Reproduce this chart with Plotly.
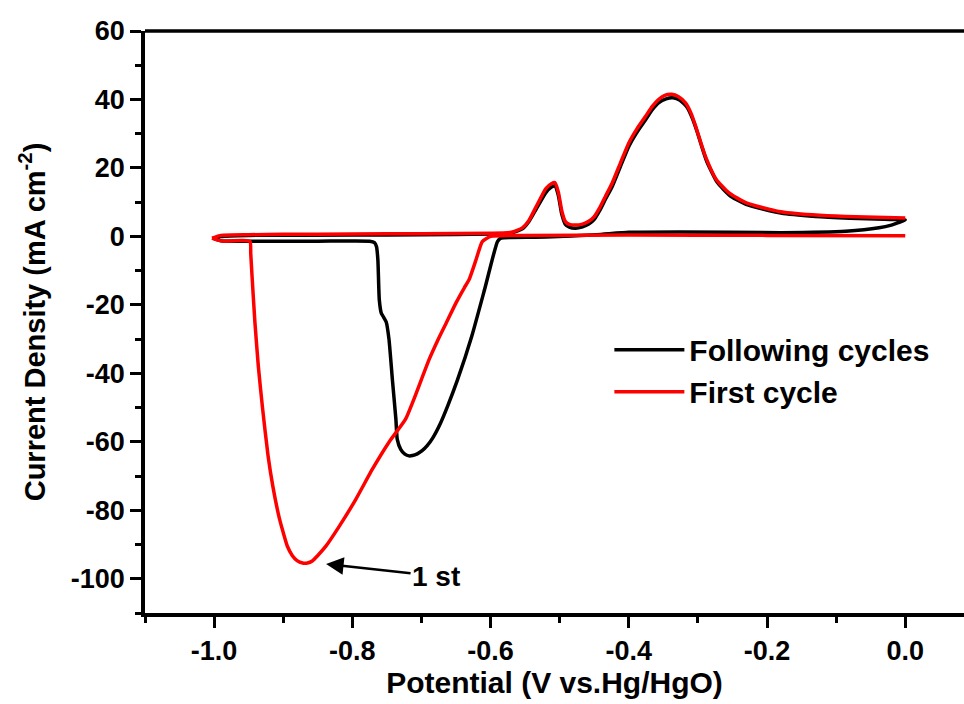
import plotly.graph_objects as go

# Following cycles (black) - closed CV loop
follow_x = [-1.0, -0.99, -0.95, -0.8, -0.7, -0.6, -0.57, -0.554, -0.545, -0.534, -0.52, -0.512, -0.507, -0.502,
            -0.497, -0.492, -0.486, -0.477, -0.467, -0.458, -0.450, -0.442, -0.434, -0.424, -0.412, -0.4, -0.388,
            -0.376, -0.366, -0.357, -0.346, -0.336, -0.326, -0.316, -0.308,
            -0.301, -0.294, -0.287, -0.272, -0.253, -0.228, -0.18, -0.13, -0.08, -0.03, 0.0,
            -0.01, -0.02, -0.038, -0.086, -0.18, -0.327, -0.4, -0.447, -0.52, -0.57, -0.585,
            -0.590, -0.608, -0.627, -0.648, -0.662, -0.673, -0.684, -0.692, -0.699, -0.706, -0.713, -0.718,
            -0.724, -0.730, -0.735, -0.737, -0.742, -0.747, -0.751, -0.755, -0.758, -0.761, -0.763, -0.765,
            -0.768, -0.775, -0.85, -0.95, -0.99, -1.0]
follow_y = [-0.6, 0.0, 0.3, 0.4, 0.5, 0.7, 1.0, 2.2, 4.2, 8.0, 12.8, 14.4, 14.8, 12.0,
            6.5, 3.6, 2.7, 2.4, 2.8, 3.6, 5.0, 7.6, 10.8, 14.6, 20.5, 26.3, 30.5,
            34.0, 37.0, 39.0, 40.2, 40.5, 39.8, 37.8, 34.5,
            30.5, 26.0, 21.8, 15.8, 11.8, 9.2, 6.8, 5.8, 5.3, 5.0, 4.8,
            4.0, 3.3, 2.5, 1.5, 1.1, 1.3, 1.2, 0.5, -0.2, -0.3, -0.5,
            -1.5, -15.0, -29.0, -42.0, -49.5, -54.8, -59.0, -61.2, -62.6, -63.5, -64.0, -64.1,
            -63.6, -62.2, -59.3, -53.4, -42.0, -30.0, -25.0, -23.5, -22.5, -18.5, -7.0, -3.0,
            -1.8, -1.4, -1.4, -1.4, -1.3, -0.6]

# First cycle (red)
first_x = [-1.003, -0.99, -0.95, -0.9, -0.8, -0.7, -0.6, -0.57, -0.554, -0.545, -0.534, -0.52, -0.512, -0.507,
           -0.502, -0.497, -0.492, -0.486, -0.477, -0.467, -0.458, -0.450, -0.442, -0.434, -0.424, -0.412, -0.4, -0.388,
           -0.376, -0.366, -0.357, -0.348, -0.338, -0.328,
           -0.318, -0.310, -0.303, -0.296, -0.289, -0.274, -0.255, -0.23, -0.183, -0.134, -0.086, 0.0,
           None,
           0.0, -0.2, -0.4, -0.55, -0.6, -0.612, -0.621, -0.631, -0.638, -0.650, -0.664, -0.674,
           -0.689, -0.711, -0.723, -0.747, -0.771, -0.795, -0.819, -0.838, -0.850, -0.858, -0.865,
           -0.872, -0.880, -0.887, -0.894, -0.900, -0.906, -0.915, -0.922, -0.930, -0.936, -0.941, -0.945,
           -0.947, -0.948, -0.96, -0.99, -1.003]
first_y = [-0.5, 0.3, 0.5, 0.6, 0.7, 0.8, 0.9, 1.2, 2.5, 4.5, 8.7, 14.0, 15.4, 15.7,
           13.0, 7.5, 4.4, 3.5, 3.3, 3.6, 4.4, 5.8, 8.4, 11.6, 15.6, 21.5, 27.3, 31.5,
           35.0, 38.0, 40.0, 41.2, 41.5, 40.8,
           39.0, 36.0, 32.0, 27.5, 23.3, 16.8, 12.7, 9.8, 7.3, 6.3, 5.8, 5.4,
           None,
           0.2, 0.3, 0.4, 0.3, 0.0, -1.5, -6.8, -12.6, -15.0, -19.4, -25.2, -29.3,
           -36.0, -47.6, -53.4, -60.1, -68.0, -76.8, -84.7, -90.4, -93.2, -94.8, -95.4,
           -95.4, -94.7, -93.2, -90.5, -86.5, -82.0, -73.0, -64.0, -50.0, -38.0, -25.0, -12.0,
           -5.0, -1.5, -1.2, -1.3, -0.5]

x_tickvals = [-1.0, -0.8, -0.6, -0.4, -0.2, 0.0]
x_ticktext = ["-1.0", "-0.8", "-0.6", "-0.4", "-0.2", "0.0"]
y_tickvals = [-100, -80, -60, -40, -20, 0, 20, 40, 60]
y_ticktext = ["-100", "-80", "-60", "-40", "-20", "0", "20", "40", "60"]

FONT = "Liberation Sans"

fig = go.Figure()
fig.add_trace(go.Scatter(x=follow_x, y=follow_y, mode="lines", name="Following cycles",
                         line=dict(color="black", width=3.5, shape="spline", smoothing=0.5)))
fig.add_trace(go.Scatter(x=first_x, y=first_y, mode="lines", name="First cycle",
                         line=dict(color="#ff0000", width=3.5, shape="spline", smoothing=0.5)))

axis_common = dict(showline=True, linecolor="black", linewidth=3.5, ticks="outside",
                   tickcolor="black", showgrid=False, zeroline=False,
                   tickfont=dict(family=FONT, size=27, color="black", weight="bold"))

fig.update_layout(
    width=964, height=704,
    margin=dict(l=145, r=0, t=31, b=91),
    paper_bgcolor="white", plot_bgcolor="white",
    font=dict(family=FONT, color="black"),
    xaxis=dict(range=[-1.1, 0.085], tickvals=x_tickvals, ticktext=x_ticktext,
               ticklen=11, tickwidth=3,
               minor=dict(dtick=0.1, tick0=0, ticklen=6, tickwidth=3, ticks="outside", tickcolor="black"),
               title=dict(text="<b>Potential (V vs.Hg/HgO)</b>", font=dict(family=FONT, size=30, color="black"),
                          standoff=3),
               **axis_common),
    yaxis=dict(range=[-110, 60], tickvals=y_tickvals, ticktext=y_ticktext,
               ticklen=11, tickwidth=3,
               minor=dict(dtick=10, tick0=0, ticklen=6, tickwidth=3, ticks="outside", tickcolor="black"),
               title=dict(text="<b>Current Density (mA cm<sup>-2</sup>)</b>",
                          font=dict(family=FONT, size=29, color="black"), standoff=18),
               **axis_common),
    legend=dict(x=0.567, y=0.497, xanchor="left", yanchor="top", bgcolor="rgba(0,0,0,0)",
                font=dict(family=FONT, size=30, color="black", weight="bold"),
                itemwidth=70, tracegroupgap=0),
    shapes=[dict(type="line", xref="paper", yref="paper", x0=0, x1=1, y0=1, y1=1,
                 line=dict(color="black", width=3.5))],
    annotations=[dict(x=-0.838, y=-95.7, xref="x", yref="y", ax=110, ay=12,
                      text="<b>1 st</b>", showarrow=True, arrowhead=2, arrowsize=1.4,
                      arrowwidth=2.5, arrowcolor="black",
                      font=dict(family=FONT, size=28, color="black"))],
)

fig.write_html("out.html")
